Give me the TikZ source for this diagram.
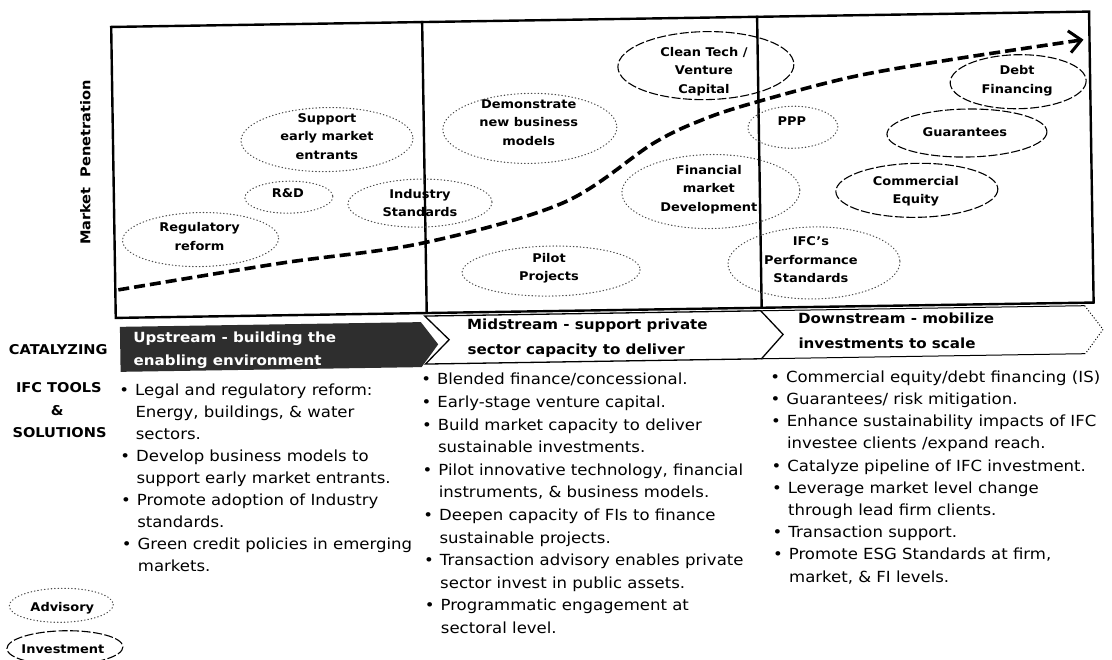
\documentclass[tikz,border=0pt]{standalone}
\usepackage{fontspec}
\setmainfont{DejaVu Sans}[FakeStretch=1.08]
\usetikzlibrary{arrows.meta}
\newcommand{\bul}{\llap{\textbullet\hspace{6pt}}}
\begin{document}
\begin{tikzpicture}[x=1pt,y=-1pt,
  frame/.style={line width=2.4pt, line cap=rect},
  trend/.style={line width=3.6pt, dash pattern=on 11pt off 5pt,
    -{Straight Barb[length=12pt,width=22pt,line width=3pt]}},
  adv/.style={line width=1.1pt, dash pattern=on 0.6pt off 2.8pt, line cap=round, black!70},
  inv/.style={line width=1.1pt, dash pattern=on 9pt off 2.5pt, black},
  elbl/.style={font=\fontsize{12}{18.5}\selectfont\bfseries, align=center, inner sep=0pt},
  body/.style={font=\fontsize{15.3}{18}\selectfont, anchor=base west, inner sep=0pt},
  band/.style={font=\fontsize{14}{18}\selectfont\bfseries, anchor=base west, inner sep=0pt},
  side/.style={font=\fontsize{13.5}{16}\selectfont\bfseries, inner sep=0pt},
]
\useasboundingbox (0,0) rectangle (1112,660);
\fill[white] (0,0) rectangle (1112,660);

\begin{scope}[rotate around={0.9:(556,330)}]
% ---------- chart frame and stage dividers
\draw[frame] (116,20) rectangle (1094,311);
\draw[frame] (427,20) -- (427,311);
\draw[frame] (762,20) -- (762,311);
\node[side, rotate=90] (ylab) at (88,155) {Market\ \ Penetration};

% ---------- advisory tools (dotted)
\draw[adv] (202,234) ellipse (78 and 27);
\node[elbl] (reg) at (201,231) {Regulatory\\reform};
\draw[adv] (291,193) ellipse (44 and 16);
\node[elbl] (rd) at (290,189) {R\&D};
\draw[adv] (330,136) ellipse (86 and 32);
\node[elbl] (sup) at (330,133) {Support\\early market\\entrants};
\draw[adv] (422,201) ellipse (72 and 24);
\node[elbl] (ind) at (422,201) {Industry\\Standards};
\draw[adv] (533,128) ellipse (87 and 35);
\node[elbl] (demo) at (532,122) {Demonstrate\\new business\\models};
\draw[adv] (552,271) ellipse (89 and 25);
\node[elbl] (pilot) at (550,268) {Pilot\\Projects};
\draw[adv] (713,194) ellipse (89 and 37);
\node[elbl] (fmd) at (711,192) {Financial\\market\\Development};
\draw[adv] (796,131) ellipse (45 and 21);
\node[elbl] (ppp) at (795,125) {PPP};
\draw[adv] (815,267) ellipse (86 and 36);
\node[elbl] (ifcps) at (812,264) {IFC's\\Performance\\Standards};

% ---------- investment tools (dashed)
\draw[inv] (710,68) ellipse (88 and 34);
\node[elbl] (clean) at (708,74) {Clean Tech /\\Venture\\Capital};
\draw[inv] (1022,89) ellipse (68 and 27);
\node[elbl] (debt) at (1021,88) {Debt\\Financing};
\draw[inv] (970,139.5) ellipse (80 and 24);
\node[elbl] (guar) at (968,139) {Guarantees};
\draw[inv] (919,196) ellipse (81 and 27);
\node[elbl] (comeq) at (918,197) {Commercial\\Equity};

% ---------- market penetration trend
\draw[trend] plot[smooth, tension=0.55] coordinates {(119,283) (281,259) (424,241)
  (565,203) (656,145) (706,122) (757,106) (854,82) (954,66) (1088,48)};

% ---------- stage banners
\draw[line width=1.3pt] (425,314) -- (761,314) -- (783,338) -- (761,362) -- (425,362)
  -- (449,338) -- cycle;
\draw[line width=1pt] (761,314) -- (1085,314);
\draw[line width=1pt, dotted] (1085,314) -- (1103,338) -- (1085,362);
\draw[line width=1pt] (1085,362) -- (761,362);
\fill[black!82] (120,320) -- (421,320) -- (438,342.5) -- (421,365) -- (120,365) -- cycle;

\node[band, text=white] (up1) at (133,335.5) {Upstream - building the};
\node[band, text=white] (up2) at (133,359) {enabling environment};
\node[band] (mid1) at (467,328.6) {Midstream - support private};
\node[band] (mid2) at (467,353.6) {sector capacity to deliver};
\node[band] (down1) at (798,327) {Downstream - mobilize};
\node[band] (down2) at (798,352) {investments to scale};

% ---------- row labels
\node[side] (cat) at (58,342) {CATALYZING};
\node[side] (tools) at (58,380) {IFC TOOLS};
\node[side] (amp) at (56,403) {\&};
\node[side] (sol) at (58,425) {SOLUTIONS};

% ---------- tool lists
\foreach \t [count=\i] in {{\bul Legal and regulatory reform:}, {Energy, buildings, \& water},
  {sectors.}, {\bul Develop business models to}, {support early market entrants.},
  {\bul Promote adoption of Industry}, {standards.},
  {\bul Green credit policies in emerging}, {markets.}}
  \node[body] (c1-\i) at (134,{388.5+(\i-1)*22}) {\t};

\foreach \t [count=\i] in {{\bul Blended finance/concessional.}, {\bul Early-stage venture capital.},
  {\bul Build market capacity to deliver}, {sustainable investments.},
  {\bul Pilot innovative technology, financial}, {instruments, \& business models.},
  {\bul Deepen capacity of FIs to finance}, {sustainable projects.},
  {\bul Transaction advisory enables private}, {sector invest in public assets.},
  {\bul Programmatic engagement at}, {sectoral level.}}
  \node[body] (c2-\i) at (436,{383+(\i-1)*22.6}) {\t};

\foreach \t [count=\i] in {{\bul Commercial equity/debt financing (IS)},
  {\bul Guarantees/ risk mitigation.}, {\bul Enhance sustainability impacts of IFC},
  {investee clients /expand reach.}, {\bul Catalyze pipeline of IFC investment.},
  {\bul Leverage market level change}, {through lead firm clients.},
  {\bul Transaction support.}, {\bul Promote ESG Standards at firm,},
  {market, \& FI levels.}}
  \node[body] (c3-\i) at (785,{386+(\i-1)*22.2}) {\t};

% ---------- legend
\draw[adv] (57,597.5) ellipse (52 and 17);
\node[elbl] (legadv) at (58,600) {Advisory};
\draw[inv] (60,640) ellipse (58 and 17);
\node[elbl] (leginv) at (58,641) {Investment};
\end{scope}
\end{tikzpicture}
\end{document}
